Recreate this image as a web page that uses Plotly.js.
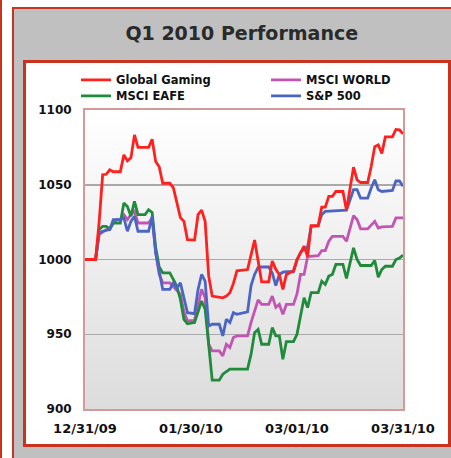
<!DOCTYPE html>
<html>
<head>
<meta charset="utf-8">
<script src="https://cdn.plot.ly/plotly-3.0.1.min.js"></script>
<style>
  html, body { margin: 0; padding: 0; background: #fff; }
  #wrap { position: relative; width: 451px; height: 458px; overflow: hidden; background: #fff; }
  .abs { position: absolute; box-sizing: border-box; }
</style>
</head>
<body>
<div id="wrap">
  <div class="abs" style="left:0;top:0;width:2px;height:458px;background:#c8321e;"></div>
  <div class="abs" style="left:12px;top:7px;width:520px;height:520px;background:#c0c0c0;border:2px solid #c8321e;"></div>
  <div class="abs" style="left:23px;top:59.5px;width:428px;height:387px;background:#fff;border:3px solid #c8321e;"></div>
  <div id="chart" class="abs" style="left:0;top:0;width:451px;height:458px;"></div>
</div>
<script>
// ---- data (x = days after 2009-12-31) ----
const startDate = '2009-12-31';

const globalGamingDays = [0,3,4,5,6,7,8,10,11,12,13,14,15,18,19,20,21,22,24,25,27,28,29,31,32,33,34,35,36,38,39,40,41,42,43,46,47,48,49,50,52,53,54,55,56,57,59,60,62,63,64,66,67,68,69,70,71,73,74,76,77,78,80,81,82,83,84,85,87,88,89,90];
const globalGaming = [1000,1000,1025,1056.7,1057,1060,1058.7,1058.7,1070,1066,1068,1083.3,1075,1075,1080.4,1065.5,1062,1051,1051,1048,1028,1025.5,1013.3,1013,1030,1033,1025.5,989,975.5,975,974.4,975.5,977.8,984,992.4,993.3,1003.5,1013,999,985,985,999,993.5,990,980,990,992.5,1000,1009,1002,1022.7,1022.7,1035,1035,1042.2,1042.2,1045.5,1045.5,1033,1061.8,1053.3,1051.5,1051.5,1062.2,1075.5,1076.7,1071,1082,1082,1087,1086.7,1084];

const msciWorldDays = [0,3,4,6,7,8,9,10,11,12,13,14,15,18,19,20,21,22,24,25,26,27,28,29,31,33,34,35,36,38,39,40,41,42,43,46,47,48,49,50,52,53,54,55,56,57,59,60,61,62,63,66,67,68,69,70,73,74,76,77,78,80,82,83,84,87,88,90];
const msciWorld = [1000,1000,1016.7,1020,1020,1024.4,1026.7,1026.7,1030,1026.7,1030,1032.2,1024.4,1024.4,1027.8,1005,990,984.4,984.4,982,979,976.7,965,959,959.3,980,974.4,943.3,938.9,938.9,935.5,943.3,941.1,947.8,948.9,948.9,958,966,973,970,970,975.5,968,970,963.3,970,970,977,990,990,1002,1002.5,1006,1006,1012.2,1015.5,1015.5,1012.2,1029.3,1026.7,1020.5,1020.5,1025.5,1021.1,1021.8,1022.2,1027.8,1027.8];

const msciEafeDays = [0,3,4,5,6,7,8,10,11,12,13,14,15,17,18,19,20,21,22,24,25,26,27,28,29,31,33,34,35,36,38,39,41,46,47,48,49,50,52,53,54,55,56,57,59,60,62,63,64,66,67,68,69,70,71,73,74,75,76,77,78,81,82,83,84,85,87,88,89,90];
const msciEafe = [1000,1000,1020,1022.2,1022.2,1020.5,1024.4,1024.4,1037.8,1035.5,1028.9,1038.9,1030,1030,1033.3,1031.5,1008,995,991.1,991.1,986.7,982,973.3,960,957,957.8,972.2,966.7,943.3,919.3,919.3,923.3,926.7,926.7,936.7,951.1,953.3,943.3,943.3,954.4,948.9,948.9,933.3,945.1,945.1,950,974.4,967.8,977.8,977.8,985.5,983.3,988.9,990,996.7,996.7,987.3,996.7,1007.8,1000,996,996,999.3,988.2,993.3,995.5,995.5,1000,1001,1002.9];

const sp500Days = [0,3,4,5,7,8,10,11,12,13,14,15,18,19,20,21,22,24,25,26,27,29,31,32,33,34,35,36,38,39,40,41,42,43,46,47,48,49,50,52,53,54,55,56,57,59,60,61,62,63,64,66,67,68,73,74,76,77,78,80,81,82,83,84,87,88,89,90];
const sp500 = [1000,1000,1017.8,1018.9,1020,1026.7,1026.7,1027.8,1018.9,1025.5,1028.9,1018.9,1018.9,1028.9,1004.4,992,980,980,984.4,981.1,984.4,964.4,963.8,980,990,985.5,955.5,956.7,956.7,948.9,960,957.8,964.4,963.3,965,982.5,990,994.7,995,995,991,982.5,990,991.5,991.8,991.8,999.5,1004.7,1007,1008.4,1022.2,1022.5,1030,1032.2,1032.5,1033,1046.7,1046.7,1041,1041,1047.8,1053.3,1046.7,1045.5,1046.2,1052.5,1052.5,1049];

const tickDates = ['2009-12-31','2010-01-30','2010-03-01','2010-03-31'];
const tickLabels = ['12/31/09','01/30/10','03/01/10','03/31/10'];
const yTicks = [900,950,1000,1050,1100];

function toDates(days) {
  const t0 = Date.parse(startDate + 'T00:00:00Z');
  return days.map(d => new Date(t0 + d * 86400000).toISOString().slice(0, 10));
}

const FONT = 'DejaVu Sans, Verdana, sans-serif';
const lw = 2.8;

const traces = [
  {name: 'MSCI WORLD', x: toDates(msciWorldDays), y: msciWorld, color: '#c255b3', rank: 2},
  {name: 'MSCI EAFE', x: toDates(msciEafeDays), y: msciEafe, color: '#1f8b3b', rank: 3},
  {name: 'S&P 500', x: toDates(sp500Days), y: sp500, color: '#4a66c2', rank: 4},
  {name: 'Global Gaming', x: toDates(globalGamingDays), y: globalGaming, color: '#ff2020', rank: 1}
].map(s => ({
  type: 'scatter', mode: 'lines', name: s.name, x: s.x, y: s.y,
  line: {color: s.color, width: lw}, legendrank: s.rank, hoverinfo: 'skip'
}));

const gradSvg = '<svg xmlns="http://www.w3.org/2000/svg" width="10" height="100" viewBox="0 0 10 100" preserveAspectRatio="none">' +
  '<defs><linearGradient id="g" x1="0" y1="0" x2="0" y2="1">' +
  '<stop offset="0" stop-color="#ffffff"/><stop offset="0.5" stop-color="#eeeeee"/><stop offset="1" stop-color="#dcdcdc"/>' +
  '</linearGradient></defs><rect x="0" y="0" width="10" height="100" fill="url(#g)"/></svg>';

const layout = {
  width: 451, height: 458,
  margin: {l: 85, r: 48, t: 110, b: 49, autoexpand: false},
  paper_bgcolor: 'rgba(0,0,0,0)',
  plot_bgcolor: 'rgba(0,0,0,0)',
  font: {family: FONT, color: '#111'},
  title: {
    text: 'Q1 2010 Performance',
    font: {family: FONT, size: 19, color: '#2a2a2a', weight: 'bold'},
    x: 0.536, xref: 'container', xanchor: 'center',
    y: 1 - 33 / 458, yref: 'container', yanchor: 'middle'
  },
  showlegend: true,
  legend: {
    orientation: 'h', x: -0.0283, xanchor: 'left', y: 1.149, yanchor: 'top',
    entrywidth: 145, entrywidthmode: 'pixels', traceorder: 'normal',
    font: {family: FONT, size: 11.5, color: '#111', weight: 'bold'},
    bgcolor: 'rgba(0,0,0,0)', borderwidth: 0
  },
  xaxis: {
    type: 'date', range: [tickDates[0], tickDates[3]],
    tickmode: 'array', tickvals: tickDates, ticktext: tickLabels,
    showgrid: false, zeroline: false, ticks: '',
    showline: true, mirror: true, linecolor: '#d49a9a', linewidth: 2,
    tickfont: {family: FONT, size: 13, color: '#111', weight: 'bold'},
    ticklabelstandoff: 6, fixedrange: true
  },
  yaxis: {
    range: [900, 1100], tickmode: 'array', tickvals: yTicks,
    showgrid: true, gridcolor: '#a9a9a9', gridwidth: 1.5, zeroline: false, ticks: '',
    showline: true, mirror: true, linecolor: '#d49a9a', linewidth: 2,
    tickfont: {family: FONT, size: 12, color: '#111', weight: 'bold'},
    ticklabelstandoff: 9, fixedrange: true
  },
  images: [{
    source: 'data:image/svg+xml;charset=utf-8,' + encodeURIComponent(gradSvg),
    xref: 'paper', yref: 'paper', x: 0, y: 1, sizex: 1, sizey: 1,
    xanchor: 'left', yanchor: 'top', sizing: 'stretch', layer: 'below'
  }]
};

Plotly.newPlot('chart', traces, layout, {staticPlot: true, displayModeBar: false}).then(function () {
  // tighten legend row spacing to match the reference (16px between rows)
  const items = document.querySelectorAll('.legend .traces');
  items.forEach(function (g) {
    const t = g.getAttribute('transform') || '';
    const m = t.match(/translate\(([-\d.]+),\s*([-\d.]+)\)/);
    if (m) {
      const x = parseFloat(m[1]);
      const y = parseFloat(m[2]);
      if (y > 20) g.setAttribute('transform', 'translate(' + x + ',' + (y - 3) + ')');
    }
  });
});
</script>
</body>
</html>
